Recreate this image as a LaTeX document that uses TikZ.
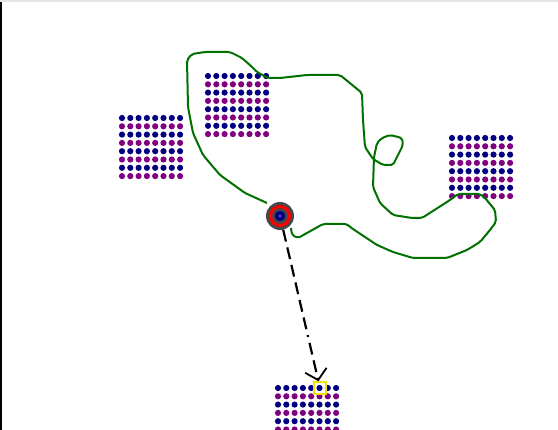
\documentclass[tikz,border=0pt]{standalone}
\usetikzlibrary{arrows.meta}
\definecolor{DotNavy}{RGB}{0,0,128}
\definecolor{DotPurple}{RGB}{128,0,128}
\definecolor{TrackGreen}{RGB}{0,112,0}
\definecolor{RobotGray}{RGB}{72,72,72}
\definecolor{FrameGray}{RGB}{230,230,230}
\definecolor{GoalYellow}{RGB}{245,225,0}

\begin{document}
\begin{tikzpicture}[x=1pt, y=-1pt]
  \useasboundingbox (0,0) rectangle (558,430);
  \clip (0,0) rectangle (558,430);
  \fill[FrameGray] (0,0) rectangle (558,2);
  \draw[line width=1.5pt] (0.75,2) -- (0.75,430);
  % dot grids
  \foreach \gx/\gy in {122/118, 208/76, 452/138, 278/388} {
    \foreach \r in {0,2,4,6} {
      \foreach \c in {0,...,7} {
        \fill[DotNavy] (\gx+\c*8.3, \gy+\r*8.3) circle (3.1);
        \fill[DotPurple] (\gx+\c*8.3, \gy+\r*8.3+8.3) circle (3.1);
      }
    }
  }
  % trajectory
  \draw[TrackGreen, line width=2pt, rounded corners=2pt]
    (267,203) -- (245,193) -- (220,175) -- (203,155) -- (193,133) -- (188,107)
    -- (187,60) -- (192,54) -- (205,52) -- (230,52) -- (242,58) -- (252,67)
    -- (257,72) -- (268,78) -- (280,78) -- (307,75) -- (340,75) -- (362,93)
    -- (363,120) -- (365,147) -- (373,159) -- (383,165) -- (393,165) -- (403,145)
    -- (402,138) -- (390,135) -- (382,138) -- (377,143) -- (374,157) -- (373,187)
    -- (380,203) -- (393,215) -- (412,218) -- (422,218) -- (450,200) -- (458,194)
    -- (480,194) -- (485,198) -- (495,210) -- (496,222) -- (490,230) -- (480,242)
    -- (467,250) -- (447,258) -- (413,258) -- (393,252) -- (377,245) -- (350,227)
    -- (347,224) -- (323,224) -- (298,238) -- (292,235) -- (291,228);
  % robot and goal
  \node[circle, fill=RobotGray, minimum size=28pt, inner sep=0pt] (robot) at (280,216) {};
  \draw[red, line width=3pt] (robot.center) circle (9.5);
  \fill[DotNavy] (robot.center) circle (5.2);
  \fill[blue!45] (robot.center) circle (1.1);
  \node[draw=GoalYellow, line width=1.5pt, minimum size=12pt, inner sep=0pt] (goal) at (320,388) {};
  \draw[line width=2.2pt, dash pattern=on 12pt off 6pt on 12pt off 6pt on 12pt off 6pt
        on 12pt off 6pt on 12pt off 6pt on 12pt off 6pt on 2pt off 6pt,
        -{Straight Barb[length=10pt, width=22pt, line width=1.8pt]}] (robot) -- (goal);
\end{tikzpicture}
\end{document}
